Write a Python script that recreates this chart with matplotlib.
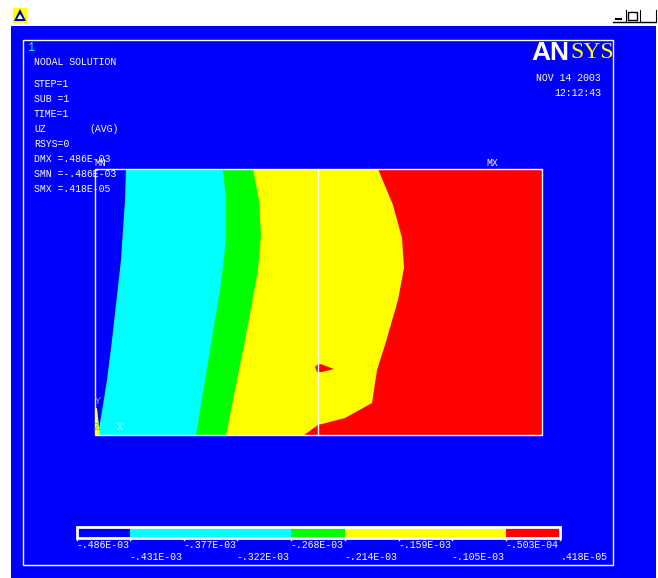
import matplotlib
matplotlib.use("Agg")
import matplotlib.pyplot as plt
from matplotlib.patches import Rectangle, Polygon

# limites entre bandas (x, y) en el plano del modelo
blue_cyan = [(126, 169), (125, 200), (121, 260), (112, 340), (107, 380), (103, 405), (98, 435)]
cyan_green = [(223, 169), (226, 200), (226, 240), (220, 290), (210, 350), (196, 435)]
green_yellow = [(253, 169), (259, 200), (261, 235), (258, 270), (245, 340), (226, 435)]
yellow_red = [(378, 169), (393, 205), (402, 238), (404, 268), (398, 300), (385, 345),
              (377, 370), (372, 403), (345, 418), (318, 425), (304, 435)]
red_island = [(315, 367), (318, 364), (322, 364.5), (334, 369), (322, 372), (317, 372)]
yellow_sliver = [(95, 408), (97, 408), (100, 435), (95, 435)]
x_left, x_right, y_top, y_bottom = 95, 542, 169, 435
x_mid = 318

# barra de colores
bar_edges = [77, 130, 291, 345, 506, 560]
bar_colors = ["#0000ff", "#00ffff", "#00ff00", "#ffff00", "#ff0000"]
tick_x = [77, 130, 184, 237, 291, 345, 399, 452, 506, 560]
tick_labels = ["-.486E-03", "-.431E-03", "-.377E-03", "-.322E-03", "-.268E-03",
               "-.214E-03", "-.159E-03", "-.105E-03", "-.503E-04", ".418E-05"]

info_lines = [("NODAL SOLUTION", 62), ("STEP=1", 84), ("SUB =1", 99), ("TIME=1", 114),
              ("UZ", 129), ("RSYS=0", 144), ("DMX =.486E-03", 159), ("SMN =-.486E-03", 174),
              ("SMX =.418E-05", 189)]

BLUE = "#0000ff"
mono = "Liberation Mono"

fig = plt.figure(figsize=(6.58, 5.78), dpi=100, facecolor="white")
ax = fig.add_axes([0, 0, 1, 1])
ax.set_xlim(0, 658)
ax.set_ylim(578, 0)
ax.axis("off")

# ventana y marco
ax.add_patch(Rectangle((11, 26), 645, 552, fc=BLUE, ec="none", zorder=0))
ax.add_patch(Rectangle((23, 40), 590, 525, fc="none", ec="white", lw=1, zorder=1))

# bandas del modelo
ax.add_patch(Rectangle((x_left, y_top), x_right - x_left, y_bottom - y_top, fc="#ff0000", ec="none", zorder=2))
ax.add_patch(Polygon([(x_left, y_top)] + yellow_red + [(x_left, y_bottom)], fc="#ffff00", ec="none", zorder=3))
ax.add_patch(Polygon([(x_left, y_top)] + green_yellow + [(x_left, y_bottom)], fc="#00ff00", ec="none", zorder=4))
ax.add_patch(Polygon([(x_left, y_top)] + cyan_green + [(x_left, y_bottom)], fc="#00ffff", ec="none", zorder=5))
ax.add_patch(Polygon([(x_left, y_top)] + blue_cyan + [(x_left, y_bottom)], fc=BLUE, ec="none", zorder=6))
ax.add_patch(Polygon(red_island, fc="#ff0000", ec="none", zorder=7))
ax.add_patch(Polygon(yellow_sliver, fc="#ffff00", ec="none", zorder=7))
ax.add_patch(Rectangle((x_left, y_top), x_right - x_left, y_bottom - y_top, fc="none", ec="white", lw=1, zorder=8))
ax.plot([x_mid, x_mid], [y_top, y_bottom], color="white", lw=1, zorder=8)

# textos de informacion
for txt, y in info_lines:
    ax.text(34, y, txt, family=mono, fontsize=7.1, color="white", va="center", zorder=9)
ax.text(89, 129, "(AVG)", family=mono, fontsize=7.1, color="white", va="center", zorder=9)
ax.text(27, 48, "1", family=mono, fontsize=8.5, color="#00ffff", va="center", zorder=9)
ax.text(94, 163, "MN", family=mono, fontsize=7.1, color="white", va="center", zorder=9)
ax.text(486, 163, "MX", family=mono, fontsize=7.1, color="white", va="center", zorder=9)
ax.text(95, 401, "Y", family=mono, fontsize=7.1, color="#a0a0a0", va="center", zorder=9)
ax.text(94, 427, "Z", family=mono, fontsize=7.1, color="#40c0c0", va="center", zorder=9)
ax.text(117, 427, "X", family=mono, fontsize=7.1, color="#c0ffff", va="center", zorder=9)

# logo y fecha
ax.text(569, 53, "AN", family="Liberation Sans", weight="bold", fontsize=19, color="white",
        ha="right", va="center", zorder=9)
ax.text(570, 53, "SYS", family="Liberation Serif", fontsize=17, color="#ffff00", ha="left", va="center", zorder=9)
ax.text(536, 78, "NOV 14 2003", family=mono, fontsize=7.1, color="white", va="center", zorder=9)
ax.text(554, 93, "12:12:43", family=mono, fontsize=7.1, color="white", va="center", zorder=9)

# barra de colores
for i in range(len(bar_colors)):
    ax.add_patch(Rectangle((bar_edges[i], 527), bar_edges[i + 1] - bar_edges[i], 11,
                           fc=bar_colors[i], ec="none", zorder=2))
ax.add_patch(Rectangle((bar_edges[0], 527), bar_edges[-1] - bar_edges[0], 11, fc="none", ec="white", lw=2, zorder=3))
for i in range(len(tick_x)):
    ax.plot([tick_x[i], tick_x[i]], [538, 540], color="white", lw=1, zorder=3)
    y = 545 if i % 2 == 0 else 557
    ax.text(tick_x[i] - 1 if i < 9 else 561, y, tick_labels[i], family=mono, fontsize=7.1, color="white",
            ha="left", va="center", zorder=9)

# icono y botones de la ventana
ax.add_patch(Rectangle((13, 8), 14, 15, fc="#ffff00", ec="none"))
ax.add_patch(Polygon([(20, 9), (26, 21), (14, 21)], fc="#0000a0", ec="none"))
ax.add_patch(Polygon([(20, 14), (23, 19), (17, 19)], fc="white", ec="none"))
ax.plot([613, 655], [22, 22], color="black", lw=1)
ax.plot([626, 626], [10, 22], color="black", lw=0.8)
ax.plot([640, 640], [10, 22], color="black", lw=0.8)
ax.plot([616, 621], [19, 19], color="black", lw=1.5)
ax.add_patch(Rectangle((628, 12), 9, 8, fc="none", ec="black", lw=1))
ax.plot([656, 656], [10, 22], color="black", lw=0.8)

fig.savefig("out.png", dpi=100, facecolor="white")
